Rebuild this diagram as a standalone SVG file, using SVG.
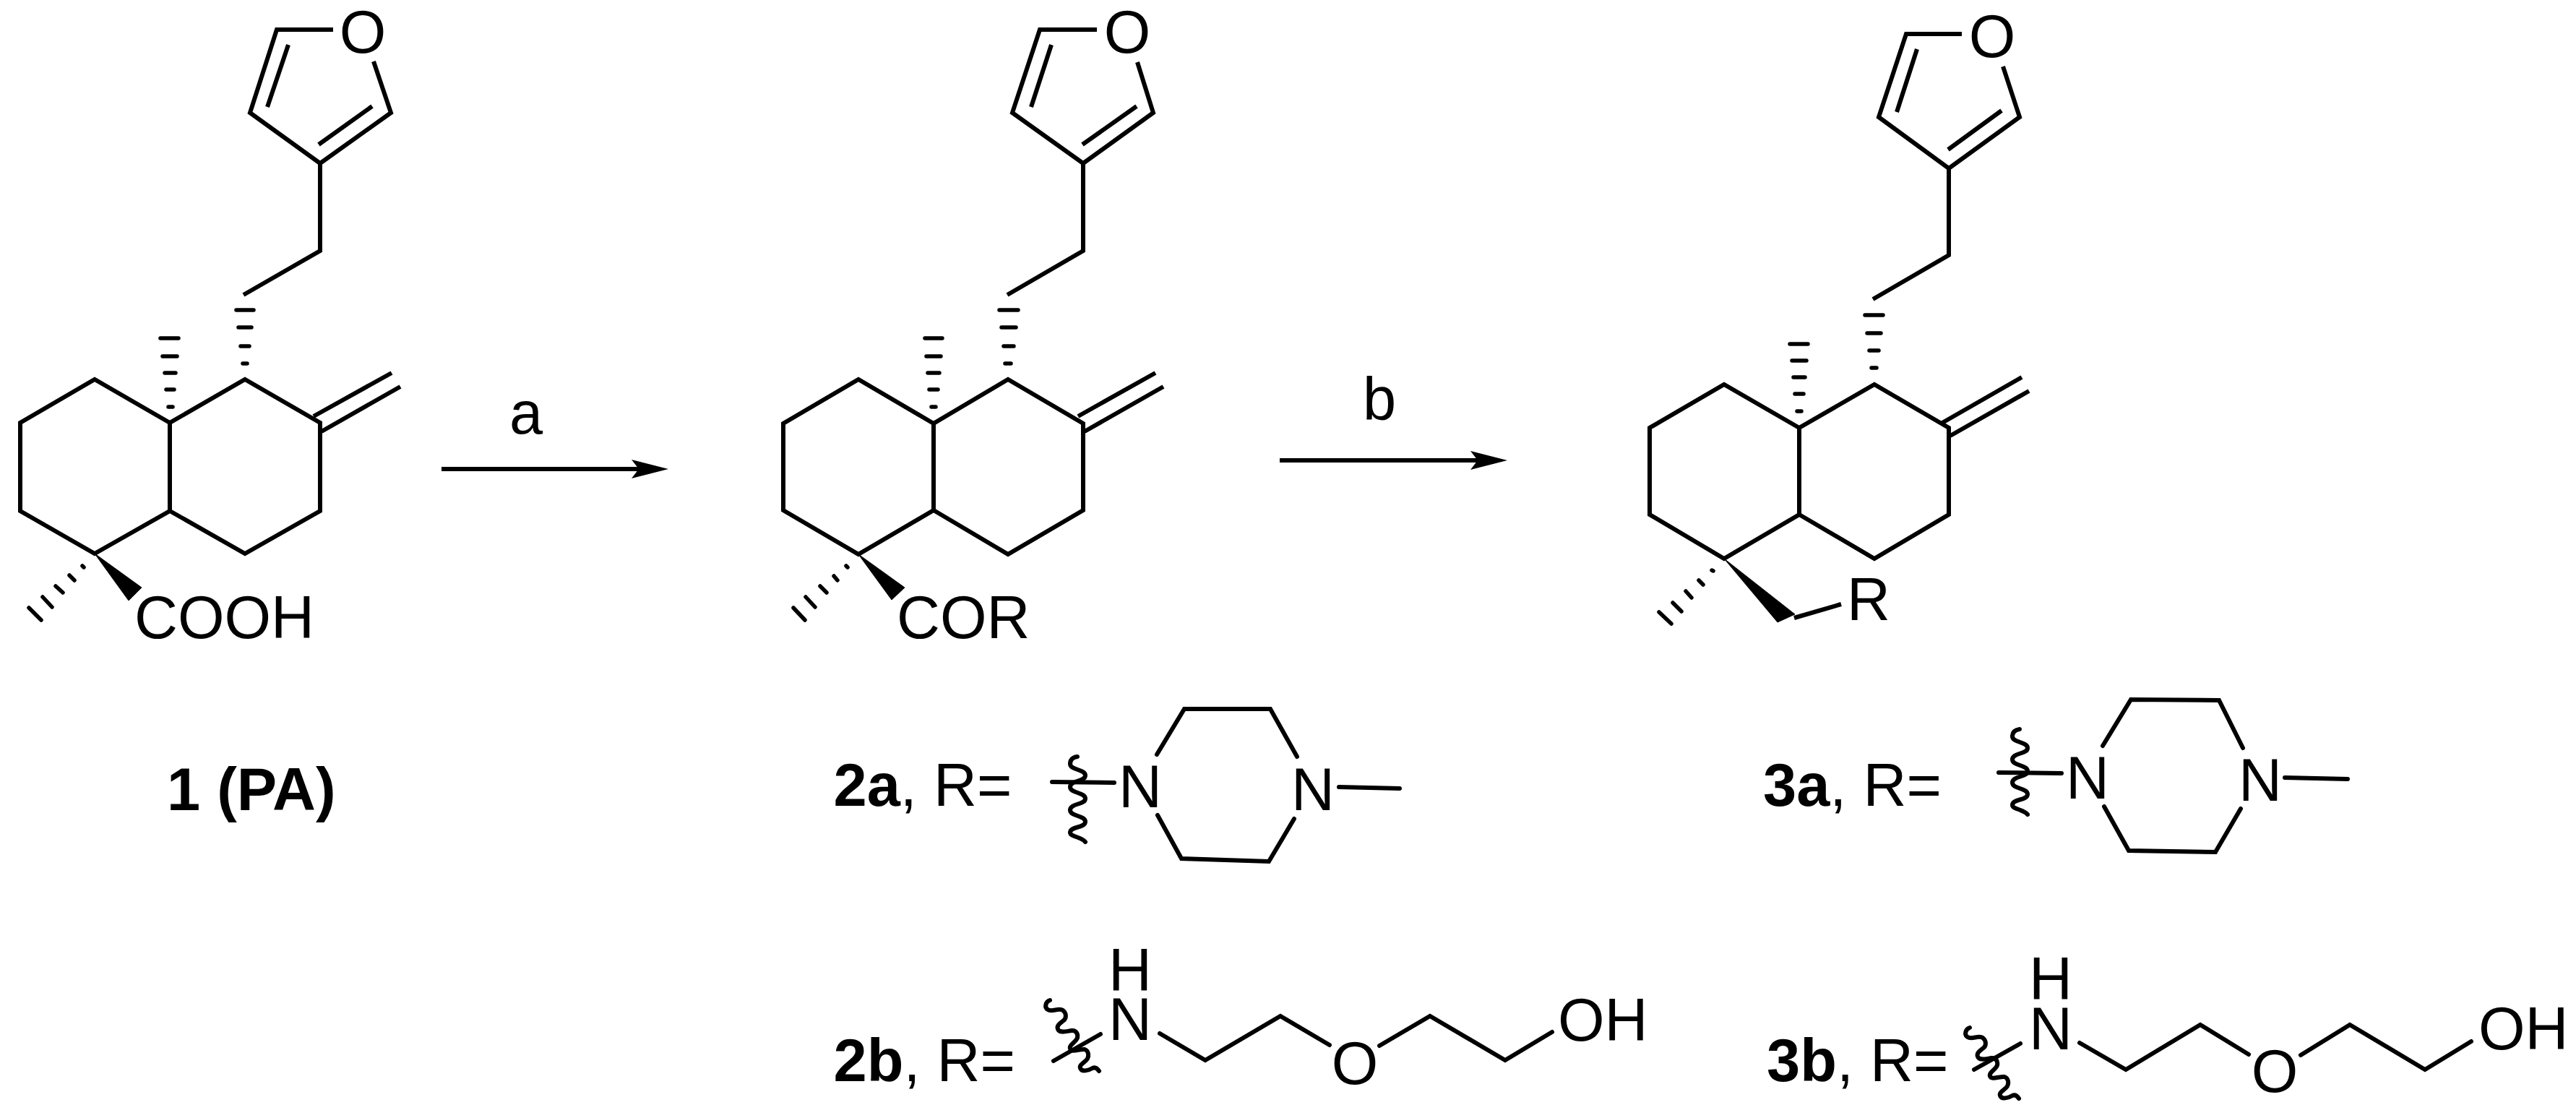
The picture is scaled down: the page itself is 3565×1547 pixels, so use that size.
<svg xmlns="http://www.w3.org/2000/svg" width="3565" height="1547" viewBox="0 0 3565 1547">
<defs>
<style>
.b{fill:none;stroke:#000;stroke-width:6;stroke-linejoin:miter;stroke-linecap:butt}
.r{stroke-linecap:round}
.h{fill:none;stroke:#000;stroke-width:5.5;stroke-linecap:round}
.w{fill:#000;stroke:#000;stroke-width:1}
.t{font-family:"Liberation Sans",Arial,sans-serif;font-size:83px;fill:#000}
.m{text-anchor:middle}
.bd{font-weight:bold}
</style>
<marker id="ah" markerUnits="userSpaceOnUse" markerWidth="54" markerHeight="30" refX="10" refY="15" orient="auto"><path d="M0,2 L51,15 L0,28 L10,15 Z" fill="#000"/></marker>
<path id="wave-v" class="b r" d="M1491,1047C1484,1048 1481,1052 1481,1057C1481,1066 1502,1064 1502,1073C1502,1082 1481,1079 1481,1089C1481,1098 1502,1096 1502,1105C1502,1114 1481,1111 1481,1121C1481,1130 1502,1128 1502,1137C1502,1146 1481,1143 1481,1152C1481,1158 1497,1158 1502,1165"/>
<path id="wave-d" class="b r" d="M1453,1384C1447,1386 1445,1394 1450,1397C1456,1401 1465,1394 1471,1398C1476,1402 1476,1409 1472,1412C1467,1416 1462,1419 1464,1424C1466,1430 1476,1427 1483,1426C1490,1425 1492,1432 1491,1436C1489,1442 1479,1446 1481,1451C1483,1457 1495,1451 1501,1452C1507,1454 1507,1461 1505,1465C1502,1470 1493,1473 1495,1478C1497,1484 1507,1481 1512,1478C1516,1476 1519,1479 1521,1482"/>
</defs>
<rect width="3565" height="1547" fill="#fff"/>
<g id="compound-1">
<path class="b" d="M461,41H383L346,156L443,226L541,156L517,85M399,62L370,148M515,147L441,200M443,226V347L337,408M235,585L131,525L28,585V707L131,766L235,707V585L339,525L443,585V707L339,766L235,707M434,576L542,516M445,597L554,535"/>
<path class="h" d="M327,429H351M330,453H348M333,479H345M336,503H342M222,468H247M225,493H245M228,516H243M230,539H241M233,563H239M40,841L57,858M59,826L72,840M77,811L87,820M96,796L103,803M114,783L116,785"/>
<path class="w" d="M131,766L196,813L178,831Z"/>
<text class="t m" x="502" y="73">O</text>
<text class="t" x="186" y="883">COOH</text>
<text class="t bd" x="231" y="1121">1 (PA)</text>
</g>
<g id="compound-2">
<path class="b" d="M1518,41H1439L1401,156L1499,226L1596,156L1574,86M1455,62L1427,148M1573,147L1498,200M1499,226V347L1394,408M1292,586L1188,525L1084,586V706L1188,767L1292,706V586L1395,525L1499,586V706L1395,767L1292,706M1492,576L1599,516M1501,597L1610,535"/>
<path class="h" d="M1383,429H1409M1386,453H1406M1389,479H1403M1391,503H1399M1280,468H1304M1282,493H1302M1284,516H1300M1286,539H1298M1289,563H1295M1098,841L1114,858M1115,826L1128,840M1135,811L1144,820M1154,797L1159,803M1171,783L1173,785"/>
<path class="w" d="M1188,767L1252,813L1234,830Z"/>
<text class="t m" x="1560" y="73">O</text>
<text class="t" x="1241" y="883">COR</text>
</g>
<g id="compound-3">
<path class="b" d="M2715,47H2638L2600,162L2697,233L2795,162L2772,92M2653,68L2625,155M2770,153L2696,207M2697,233V353L2592,414M2490,592L2386,532L2283,592V712L2386,773L2490,712V592L2594,532L2697,592V712L2594,773L2490,712M2688,585L2798,522M2699,603L2808,541M2483,855L2548,836"/>
<path class="h" d="M2581,436H2606M2584,461H2603M2587,485H2600M2590,509H2597M2477,476H2502M2480,499H2500M2482,522H2498M2484,545H2496M2487,569H2493M2296,847L2313,863M2315,834L2327,846M2333,818L2341,827M2351,803L2357,809M2369,789L2371,790"/>
<path class="w" d="M2386,773L2484,850L2460,861Z"/>
<text class="t m" x="2757" y="79">O</text>
<text class="t" x="2556" y="858">R</text>
</g>
<g id="label-2a">
<text class="t" x="1153.5" y="1115"><tspan class="bd">2a</tspan>, R=</text>
<path class="b r" d="M1601,1044L1639,981L1758,981L1795,1047M1602,1128L1635,1188L1756,1192L1791,1133M1853,1089L1937,1091M1456,1082L1542,1083"/>
<use href="#wave-v"/>
<text class="t m" x="1578" y="1117">N</text>
<text class="t m" x="1817" y="1121">N</text>
</g>
<g id="label-2b">
<text class="t" x="1153.5" y="1496"><tspan class="bd">2b</tspan>, R=</text>
<path class="b r" d="M1605,1430L1668,1467L1772,1406L1840,1446M1909,1447L1979,1406L2083,1467L2148,1428M1458,1468L1523,1431"/>
<use href="#wave-d"/>
<text class="t m"><tspan x="1564" y="1371">H</tspan><tspan x="1564" y="1439">N</tspan></text>
<text class="t m" x="1875" y="1500">O</text>
<text class="t" x="2156" y="1440">OH</text>
</g>
<g id="label-3a">
<text class="t" x="2440" y="1115"><tspan class="bd">3a</tspan>, R=</text>
<path class="b r" d="M2910,1032L2949,968L3071,969L3104,1035M2912,1116L2946,1177L3066,1179L3101,1119M3162,1076L3249,1078M2766,1069L2853,1070"/>
<use href="#wave-v" transform="translate(1304,-38)"/>
<text class="t m" x="2889" y="1105">N</text>
<text class="t m" x="3128" y="1108">N</text>
</g>
<g id="label-3b">
<text class="t" x="2445" y="1496"><tspan class="bd">3b</tspan>, R=</text>
<path class="b r" d="M2878,1443L2942,1480L3045,1418L3112,1459M3184,1460L3252,1418L3356,1480L3420,1441M2732,1480L2796,1444"/>
<use href="#wave-d" transform="translate(1273,38)"/>
<text class="t m"><tspan x="2838" y="1383">H</tspan><tspan x="2838" y="1452">N</tspan></text>
<text class="t m" x="3148" y="1511">O</text>
<text class="t" x="3430" y="1452">OH</text>
</g>
<g id="connectors">
<line class="b" x1="611" y1="649" x2="884" y2="649" marker-end="url(#ah)"/>
<line class="b" x1="1771" y1="637" x2="2045" y2="637" marker-end="url(#ah)"/>
<text class="t m" x="728" y="600">a</text>
<text class="t m" x="1909" y="581">b</text>
</g>
</svg>
